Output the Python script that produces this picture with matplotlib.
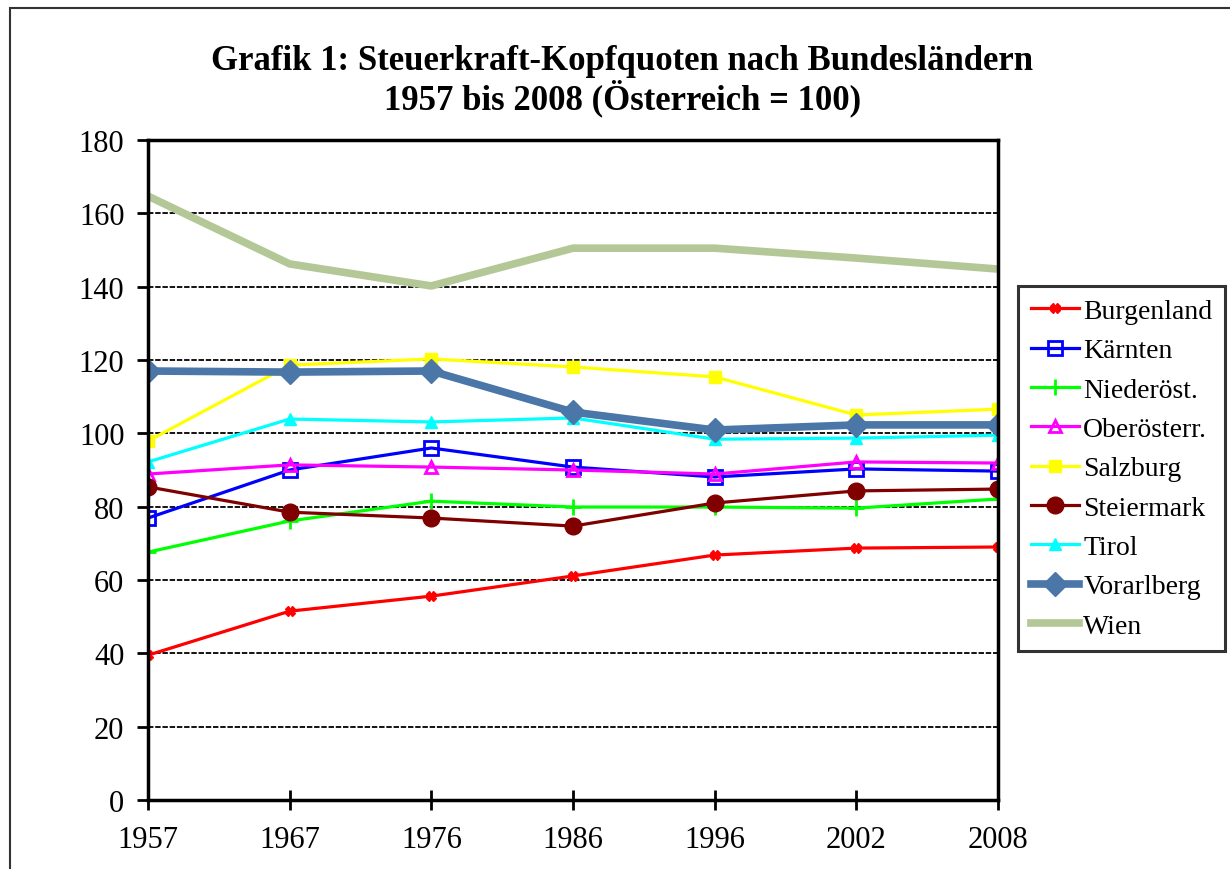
import matplotlib
matplotlib.use('Agg')
from matplotlib import pyplot as plt
from matplotlib.patches import Rectangle

plt.rcParams['font.family'] = ['Liberation Serif', 'DejaVu Serif']

years = ['1957', '1967', '1976', '1986', '1996', '2002', '2008']

burgenland = [39.5, 51.5, 55.6, 61.1, 66.8, 68.7, 69.0]
kaernten = [76.9, 90.0, 96.0, 90.8, 88.1, 90.3, 89.7]
niederoest = [67.6, 76.1, 81.5, 79.9, 79.9, 79.6, 82.1]
oberoest = [88.9, 91.4, 90.8, 90.0, 88.9, 92.2, 91.9]
salzburg = [97.9, 118.6, 120.3, 118.1, 115.4, 105.0, 106.6]
steiermark = [85.4, 78.5, 76.9, 74.7, 81.0, 84.3, 84.8]
tirol = [92.2, 103.9, 103.1, 104.2, 98.4, 98.7, 99.5]
vorarlberg = [117.0, 116.7, 117.0, 105.8, 100.9, 102.3, 102.3]
wien = [164.7, 146.2, 140.2, 150.5, 150.5, 147.8, 144.8]

fig = plt.figure(figsize=(12.3, 8.7), dpi=100)
ax = fig.add_axes([148/1230, 69/870, 850/1230, 660/870])

x = range(len(years))
ax.plot(x, burgenland, color='#FF0000', lw=2.3, marker='X', ms=7, label='Burgenland')
ax.plot(x, kaernten, color='#0000FF', lw=2.3, marker='s', ms=10, mfc='none', mew=2, label='Kärnten')
ax.plot(x, niederoest, color='#00FF00', lw=2.3, marker='+', ms=12, mew=2, label='Niederöst.')
ax.plot(x, oberoest, color='#FF00FF', lw=2.3, marker='^', ms=8, mfc='none', mew=2, label='Oberösterr.')
ax.plot(x, salzburg, color='#FFFF00', lw=2.3, marker='s', ms=8, label='Salzburg')
ax.plot(x, steiermark, color='#800000', lw=2.3, marker='o', ms=12, label='Steiermark')
ax.plot(x, tirol, color='#00FFFF', lw=2.3, marker='^', ms=8, label='Tirol')
ax.plot(x, vorarlberg, color='#4A76A8', lw=5.5, marker='D', ms=12, label='Vorarlberg')
ax.plot(x, wien, color='#B3C896', lw=5.5, solid_capstyle='projecting', label='Wien')

ax.set_xlim(0, len(years) - 1)
ax.set_ylim(0, 180)
ax.set_xticks(list(x))
ax.set_xticklabels(years)
ax.set_yticks(range(0, 181, 20))
ax.yaxis.grid(True, color='black', linestyle=(0, (3, 1)), linewidth=1.3)
ax.set_axisbelow(True)
for s in ax.spines.values():
    s.set_linewidth(2.5)
ax.tick_params(axis='y', direction='out', length=8, width=2, labelsize=22, pad=9)
ax.tick_params(axis='x', direction='inout', length=14, width=2, labelsize=22, pad=11)

fig.text(0.506, 0.929, 'Grafik 1: Steuerkraft-Kopfquoten nach Bundesländern',
         ha='center', va='center', fontsize=25, fontweight='bold')
fig.text(0.506, 0.887, '1957 bis 2008 (Österreich = 100)',
         ha='center', va='center', fontsize=25, fontweight='bold')

leg = ax.legend(loc='upper left', bbox_to_anchor=(1018/1230, (870-287)/870),
                bbox_transform=fig.transFigure, fontsize=20, frameon=True,
                fancybox=False, edgecolor='black', handlelength=1.75,
                handletextpad=0.15, labelspacing=0.5, borderpad=0.45,
                borderaxespad=0)
leg.get_frame().set_linewidth(2.2)

fig.patches.append(Rectangle((10/1230, -0.1), 1.2, (870-9)/870 + 0.1,
                             transform=fig.transFigure, fill=False,
                             edgecolor='#333333', linewidth=1.5))

fig.savefig('out.png', dpi=100)
